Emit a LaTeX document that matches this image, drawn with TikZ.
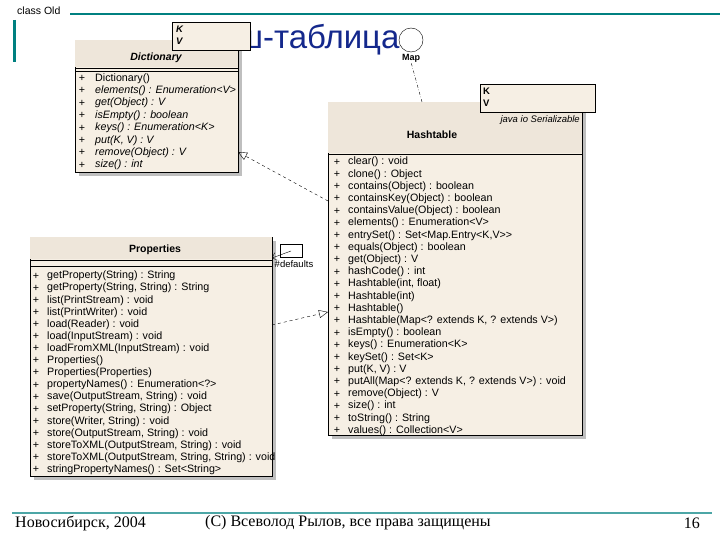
\documentclass[tikz,border=0pt]{standalone}
\usepackage{fontspec}
\setmainfont{Liberation Sans}
\newfontfamily\serifru{Liberation Serif}
\usetikzlibrary{arrows.meta}
\definecolor{teal1}{RGB}{0,128,128}
\definecolor{beige}{RGB}{246,239,228}
\definecolor{beigeh}{RGB}{238,230,218}
\definecolor{ttl}{RGB}{20,40,140}
\tikzset{
 cls/.style={draw=black,line width=0.8pt,fill=beige},
 hdr/.style={fill=beigeh},
 item/.style={anchor=west,inner sep=0pt,font=\fontsize{10.7}{11}\selectfont},
 pl/.style={anchor=center,inner sep=0pt,font=\fontsize{10.7}{11}\selectfont},
 shadow/.style={fill=black!25,draw=none},
 gen/.style={dashed,-{Triangle[open,length=9pt,width=8pt]}},
}
\begin{document}
\begin{tikzpicture}[x=1pt,y=-1pt]
\useasboundingbox (0,0) rectangle (720,540);
% frame
\node[anchor=west,inner sep=0pt,font=\fontsize{10.5}{11}\selectfont] (cls) at (17,11) {class Old};
\draw[teal1,line width=1.5pt] (70,14) -- (720,14);
\draw[teal1,line width=3pt] (14,20) -- (14,62);
\node[anchor=west,inner sep=0pt,text=ttl,font=\fontsize{33}{35}\selectfont] (title) at (196,40) {Хеш-таблица};
% Map interface
\node[circle,draw,fill=white,minimum size=24pt,inner sep=0pt] (map) at (411,40) {};
\node[inner sep=0pt,font=\bfseries\fontsize{9}{10}\selectfont] (maplbl) at (411,58) {Map};
% Dictionary
\fill[shadow] (79,44) rectangle (242,176);
\draw[cls] (75,40) rectangle (238,172);
\fill[hdr] (75.4,40.4) rectangle (237.6,67);
\draw (75,68) -- (238,68); \draw (75,71) -- (238,71);
\node[inner sep=0pt,font=\bfseries\itshape\fontsize{10.5}{11}\selectfont] (dname) at (156,58) {Dictionary};
\foreach \t [count=\i] in {{\upshape Dictionary()},{elements() : Enumeration<V>},{get(Object) : V},{isEmpty() : boolean},{keys() : Enumeration<K>},{put(K, V) : V},{remove(Object) : V},{size() : int}}{
 \node[pl] (dp\i) at (82,{66+12.4*\i}) {+};
 \node[item,font=\itshape\fontsize{10.7}{11}\selectfont] (d\i) at (95,{66+12.4*\i}) {\t};
}
\draw[fill=beige,line width=0.6pt] (172,22) rectangle (250,50);
\node[item,font=\bfseries\itshape\fontsize{9.5}{10}\selectfont] (dk) at (176,29) {K};
\node[item,font=\bfseries\itshape\fontsize{9.5}{10}\selectfont] (dv) at (176,41) {V};
% Hashtable
\fill[shadow] (332,106) rectangle (586,439);
\draw[cls] (328,102) rectangle (582,435);
\fill[hdr] (328.4,102.4) rectangle (581.6,153);
\draw (328,154) -- (582,154);
\node[inner sep=0pt,font=\bfseries\fontsize{10.5}{11}\selectfont] (hname) at (432,135) {Hashtable};
\node[anchor=east,inner sep=0pt,font=\itshape\fontsize{9.5}{10}\selectfont] (ser) at (580,120) {java io Serializable};
\foreach \t [count=\i] in {{clear() : void},{clone() : Object},{contains(Object) : boolean},{containsKey(Object) : boolean},{containsValue(Object) : boolean},{elements() : Enumeration<V>},{entrySet() : Set<Map.Entry<K,V>{}>},{equals(Object) : boolean},{get(Object) : V},{hashCode() : int},{Hashtable(int, float)},{Hashtable(int)},{Hashtable()},{Hashtable(Map<? extends K, ? extends V>)},{isEmpty() : boolean},{keys() : Enumeration<K>},{keySet() : Set<K>},{put(K, V) : V},{putAll(Map<? extends K, ? extends V>) : void},{remove(Object) : V},{size() : int},{toString() : String},{values() : Collection<V>}}{
 \node[pl] (hp\i) at (337,{150+12.2*\i}) {+};
 \node[item] (h\i) at (348,{150+12.2*\i}) {\t};
}
\draw[fill=beige,line width=0.6pt] (480,84) rectangle (595,112);
\node[item,font=\bfseries\fontsize{9.5}{10}\selectfont] (hk) at (483,91) {K};
\node[item,font=\bfseries\fontsize{9.5}{10}\selectfont] (hv) at (483,103) {V};
% Properties
\fill[shadow] (34,241) rectangle (276,480);
\draw[cls] (30,237) rectangle (272,476);
\fill[hdr] (30.4,237.4) rectangle (271.6,259);
\draw (30,260) -- (272,260); \draw (30,266) -- (272,266);
\node[inner sep=0pt,font=\bfseries\fontsize{10.5}{11}\selectfont] (pname) at (155,250) {Properties};
\foreach \t [count=\i] in {{getProperty(String) : String},{getProperty(String, String) : String},{list(PrintStream) : void},{list(PrintWriter) : void},{load(Reader) : void},{load(InputStream) : void},{loadFromXML(InputStream) : void},{Properties()},{Properties(Properties)},{propertyNames() : Enumeration<?>},{save(OutputStream, String) : void},{setProperty(String, String) : Object},{store(Writer, String) : void},{store(OutputStream, String) : void},{storeToXML(OutputStream, String) : void},{storeToXML(OutputStream, String, String) : void},{stringPropertyNames() : Set<String>}}{
 \node[pl] (pp\i) at (36,{264+12.1*\i}) {+};
 \node[item] (p\i) at (47,{264+12.1*\i}) {\t};
}
% association defaults
\node[draw,fill=white,minimum width=22pt,minimum height=13pt,inner sep=0pt] (assoc) at (291,251) {};
\coordinate (pe) at (272,258);
\draw[-{Straight Barb[length=4pt]}] (assoc.center) -- (pe);
\node[inner sep=0pt,font=\fontsize{9.5}{10}\selectfont] (def) at (294,264) {\#defaults};
% connectors
\coordinate (hg) at (328,201);
\coordinate (dg) at (238,152);
\draw[gen] (hg) -- (dg);
\coordinate (pg) at (272,325);
\coordinate (hg2) at (328,312);
\draw[gen] (pg) -- (hg2);
\coordinate (hm) at (422,102);
\draw[dash dot] (hm) -- (maplbl.south);
% footer
\draw[teal1!70,line width=2pt] (12,513) -- (712,513);
\node[anchor=west,inner sep=0pt,font=\serifru\fontsize{16}{17}\selectfont] (f1) at (15,523) {Новосибирск, 2004};
\node[anchor=west,inner sep=0pt,font=\serifru\fontsize{16}{17}\selectfont] (f2) at (205,523) {(С) Всеволод Рылов, все права защищены};
\node[anchor=east,inner sep=0pt,font=\serifru\fontsize{16}{17}\selectfont] (f3) at (700,523) {16};
\end{tikzpicture}
\end{document}
